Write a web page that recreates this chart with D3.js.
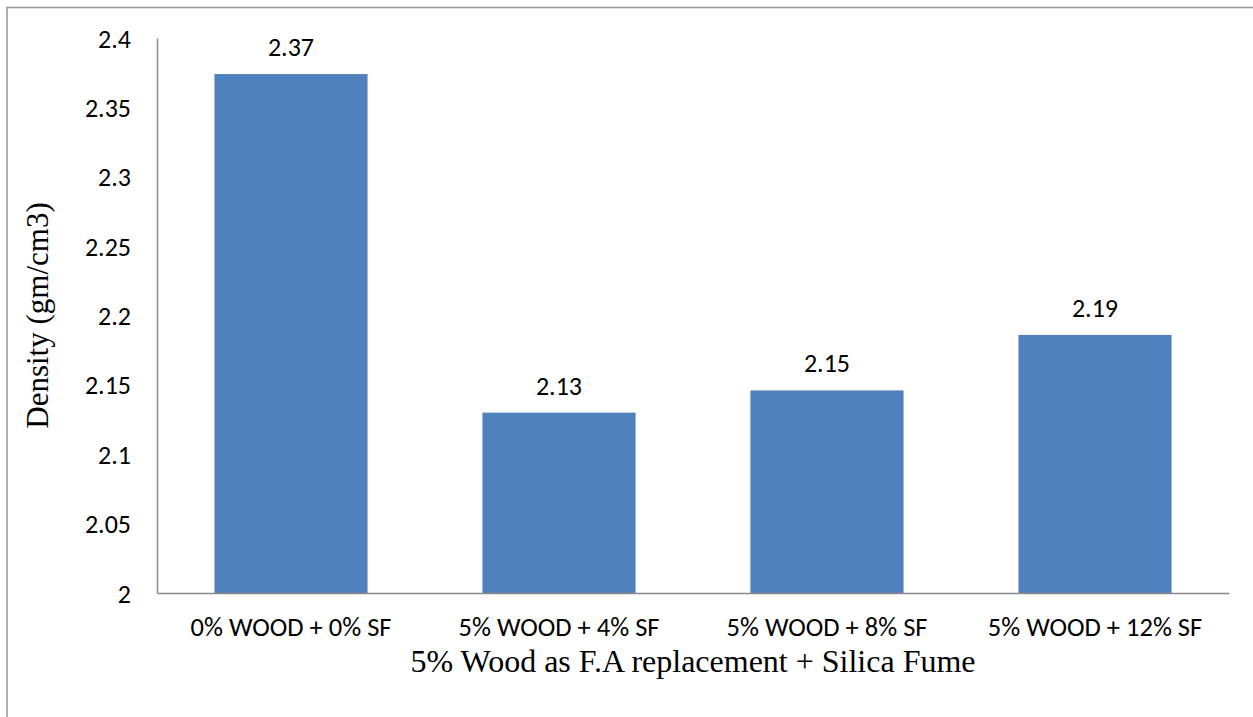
<!DOCTYPE html>
<html>
<head>
<meta charset="utf-8">
<script src="https://cdn.jsdelivr.net/npm/d3@7"></script>
<style>
  html, body { margin: 0; padding: 0; background: #fff; }
  svg { display: block; }
</style>
</head>
<body>
<svg id="chart" width="1253" height="717"></svg>
<script>
// Density of concrete mixes (gm/cm3)
const categories = ["0% WOOD + 0% SF", "5% WOOD + 4% SF", "5% WOOD + 8% SF", "5% WOOD + 12% SF"];
const densities = [2.374, 2.13, 2.146, 2.186];
const yTicks = [2, 2.05, 2.1, 2.15, 2.2, 2.25, 2.3, 2.35, 2.4];
const yTickLabels = ["2", "2.05", "2.1", "2.15", "2.2", "2.25", "2.3", "2.35", "2.4"];
const xTitle = "5% Wood as F.A replacement + Silica Fume";
const yTitle = "Density (gm/cm3)";

const W = 1253, H = 717;
const plot = { left: 157, right: 1229, top: 38, bottom: 593 };
const sansFont = "Carlito, Lato, sans-serif";
const serifFont = "'Liberation Serif', 'Times New Roman', serif";
const labelSize = 26;
const categorySize = 26.5;

const svg = d3.select("#chart");

// outer frame (only its top and left edges fall inside the page)
svg.append("rect")
  .attr("x", 7).attr("y", 7.5)
  .attr("width", W + 20).attr("height", H + 20)
  .attr("fill", "#fff")
  .attr("stroke", "#9b9b9b")
  .attr("stroke-width", 1.6);

const x = d3.scaleBand()
  .domain(categories)
  .range([plot.left, plot.right])
  .paddingInner(0.4286)
  .paddingOuter(0.2143);

const y = d3.scaleLinear()
  .domain([2, 2.4])
  .range([plot.bottom, plot.top]);

const fmt = d3.format(".2f");

// bars
svg.append("g").selectAll("rect")
  .data(densities)
  .join("rect")
  .attr("x", (d, i) => x(categories[i]))
  .attr("y", d => y(d))
  .attr("width", x.bandwidth())
  .attr("height", d => y(2) - y(d))
  .attr("fill", "#4f81bd");

// value labels
svg.append("g").selectAll("text")
  .data(densities)
  .join("text")
  .attr("x", (d, i) => x(categories[i]) + x.bandwidth() / 2)
  .attr("y", d => y(d) - 27)
  .attr("text-anchor", "middle")
  .attr("dominant-baseline", "central")
  .attr("font-family", sansFont)
  .attr("font-size", labelSize)
  .attr("fill", "#000")
  .text(d => fmt(d));

// y axis
const yAxis = d3.axisLeft(y)
  .tickValues(yTicks)
  .tickFormat((d, i) => yTickLabels[i])
  .tickSize(0)
  .tickPadding(26);
const gy = svg.append("g")
  .attr("transform", `translate(${plot.left},0)`)
  .call(yAxis);
gy.select(".domain").attr("stroke", "#8a8a8a").attr("stroke-width", 1.5);
gy.selectAll("text")
  .attr("font-family", sansFont)
  .attr("font-size", labelSize)
  .attr("dy", "0.35em")
  .attr("fill", "#000");

// x axis
const xAxis = d3.axisBottom(x).tickSize(0).tickPadding(0);
const gx = svg.append("g")
  .attr("transform", `translate(0,${plot.bottom})`)
  .call(xAxis);
gx.select(".domain").attr("stroke", "#8a8a8a").attr("stroke-width", 1.5);
gx.selectAll("text")
  .attr("y", 34)
  .attr("dy", "0.35em")
  .attr("font-family", sansFont)
  .attr("font-size", categorySize)
  .attr("fill", "#000");

// axis titles
svg.append("text")
  .attr("x", (plot.left + plot.right) / 2)
  .attr("y", 661)
  .attr("text-anchor", "middle")
  .attr("dominant-baseline", "central")
  .attr("font-family", serifFont)
  .attr("font-size", 32)
  .attr("fill", "#000")
  .text(xTitle);

svg.append("text")
  .attr("transform", `translate(37,${(plot.top + plot.bottom) / 2}) rotate(-90)`)
  .attr("text-anchor", "middle")
  .attr("dominant-baseline", "central")
  .attr("font-family", serifFont)
  .attr("font-size", 31)
  .attr("fill", "#000")
  .text(yTitle);
</script>
</body>
</html>
